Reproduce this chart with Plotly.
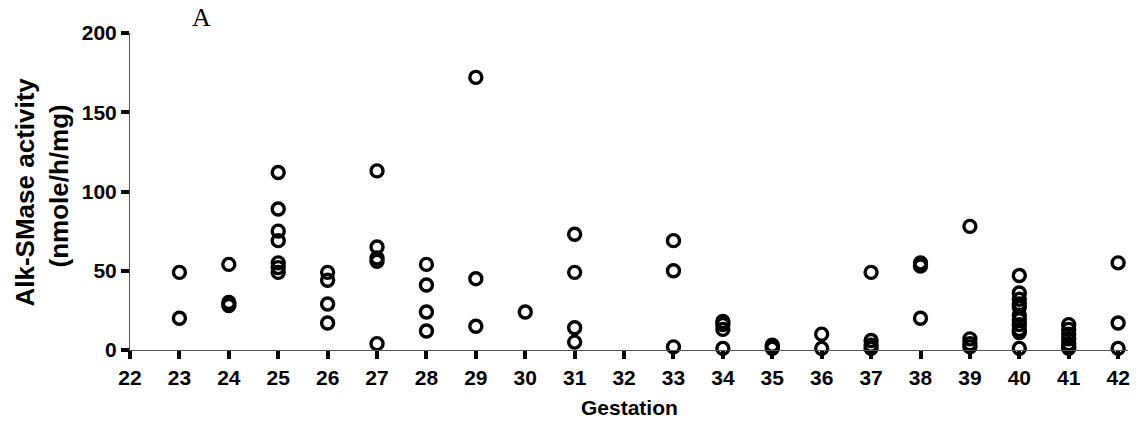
import plotly.graph_objects as go

# Alk-SMase activity (nmole/h/mg) measured at each week of gestation
gestation_weeks = [23, 24, 25, 26, 27, 28, 29, 30, 31, 33, 34, 35, 36, 37, 38, 39, 40, 41, 42]
activity_by_week = [
    [49, 20],
    [54, 30, 28],
    [112, 89, 75, 69, 55, 52, 49],
    [49, 44, 29, 17],
    [113, 65, 58, 56, 4],
    [54, 41, 24, 12],
    [172, 45, 15],
    [24],
    [73, 49, 14, 5],
    [69, 50, 2],
    [18, 16, 13, 1],
    [3, 2, 1],
    [10, 1],
    [49, 6, 3, 1],
    [55, 53, 20],
    [78, 7, 4, 2],
    [47, 36, 32, 29, 27, 22, 19, 16, 13, 11, 1],
    [16, 13, 10, 7, 4, 2, 1],
    [55, 17, 1],
]
x_ticks = list(range(22, 43))
y_ticks = [0, 50, 100, 150, 200]

xs, ys = [], []
for week, vals in zip(gestation_weeks, activity_by_week):
    for v in vals:
        xs.append(week)
        ys.append(v)

fig = go.Figure(
    go.Scatter(
        x=xs, y=ys, mode="markers",
        marker=dict(symbol="circle-open", size=12, color="black",
                    line=dict(width=3.4, color="black")),
        cliponaxis=False,
        hoverinfo="x+y",
    )
)

sans = "Liberation Sans, Arial, sans-serif"
narrow = "Liberation Sans Narrow, Arial Narrow, Liberation Sans, sans-serif"

fig.update_layout(
    width=1139, height=430,
    margin=dict(l=130, r=9, t=33, b=80),
    paper_bgcolor="white", plot_bgcolor="white",
    showlegend=False,
    font=dict(family=sans, color="black"),
    xaxis=dict(
        range=[22, 42.2], tickvals=x_ticks, ticktext=[str(t) for t in x_ticks],
        showgrid=False, zeroline=False,
        showline=True, linecolor="#555", linewidth=1,
        ticks="outside", ticklen=8, tickwidth=4, tickcolor="black",
        ticklabelstandoff=1,
        tickfont=dict(size=21, family=narrow, weight="bold"),
    ),
    yaxis=dict(
        range=[0, 200], tickvals=y_ticks,
        showgrid=False, zeroline=False,
        showline=True, linecolor="#555", linewidth=1,
        ticks="outside", ticklen=8, tickwidth=4, tickcolor="black",
        tickfont=dict(size=21, family=sans, weight="bold"),
    ),
)

# Axis titles
fig.add_annotation(
    text="<b>Gestation</b>", xref="paper", yref="paper", x=0.5, y=-0.2,
    yshift=6, showarrow=False, xanchor="center", yanchor="middle",
    font=dict(size=21, family=sans),
)
fig.add_annotation(
    text="<b>Alk-SMase activity</b>", xref="paper", yref="paper",
    x=0, y=0.5, xshift=-106, yshift=-1, textangle=-90, showarrow=False,
    xanchor="center", yanchor="middle", font=dict(size=26, family=sans),
)
fig.add_annotation(
    text="<b>(nmole/h/mg)</b>", xref="paper", yref="paper",
    x=0, y=0.5, xshift=-72, yshift=5, textangle=-90, showarrow=False,
    xanchor="center", yanchor="middle", font=dict(size=26, family=sans),
)

# Panel letter
fig.add_annotation(
    text="A", xref="x", yref="paper", x=23.45, y=1.0, yshift=-1,
    showarrow=False, xanchor="center", yanchor="bottom",
    font=dict(family="Liberation Serif, Times New Roman, serif", size=26, color="black"),
)

fig.write_html("out.html")
